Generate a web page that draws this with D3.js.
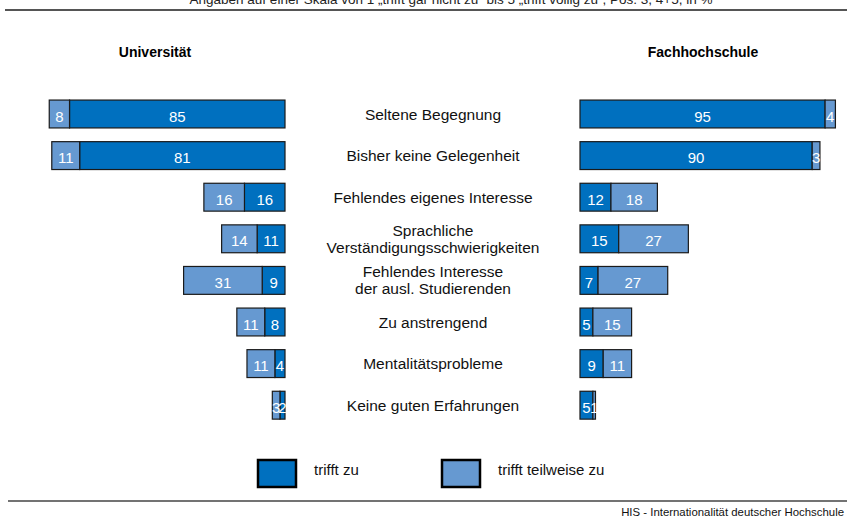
<!DOCTYPE html>
<html>
<head>
<meta charset="utf-8">
<script src="https://cdn.jsdelivr.net/npm/d3@7"></script>
<style>
  html, body { margin: 0; padding: 0; background: #fff; }
  svg { display: block; font-family: Arial, "Liberation Sans", Helvetica, sans-serif; }
</style>
</head>
<body>
<div id="chart"></div>
<script>
// Daten
const categories = [
  ["Seltene Begegnung"],
  ["Bisher keine Gelegenheit"],
  ["Fehlendes eigenes Interesse"],
  ["Sprachliche", "Verständigungsschwierigkeiten"],
  ["Fehlendes Interesse", "der ausl. Studierenden"],
  ["Zu anstrengend"],
  ["Mentalitätsprobleme"],
  ["Keine guten Erfahrungen"]
];
const uniZu = [85, 81, 16, 11, 9, 8, 4, 2];
const uniTeilweise = [8, 11, 16, 14, 31, 11, 11, 3];
const fhZu = [95, 90, 12, 15, 7, 5, 9, 5];
const fhTeilweise = [4, 3, 18, 27, 27, 15, 11, 1];
const legendLabels = ["trifft zu", "trifft teilweise zu"];

const colorZu = "#0070bf";
const colorTeil = "#6699d1";

const width = 847, height = 520;

const svg = d3.select("#chart")
  .append("svg")
  .attr("width", width)
  .attr("height", height);

// Kopfzeile (oben abgeschnitten)
svg.append("text")
  .attr("x", 451)
  .attr("y", 3.5)
  .attr("text-anchor", "middle")
  .attr("font-size", 13.5)
  .attr("fill", "#222")
  .text("Angaben auf einer Skala von 1 „trifft gar nicht zu“ bis 5 „trifft völlig zu“, Pos. 3, 4+5, in %");

svg.append("line")
  .attr("x1", 5).attr("x2", width)
  .attr("y1", 10).attr("y2", 10)
  .attr("stroke", "#555").attr("stroke-width", 2);

// Überschriften
svg.append("text")
  .attr("x", 155).attr("y", 57)
  .attr("text-anchor", "middle")
  .attr("font-size", 14).attr("font-weight", "bold")
  .text("Universität");
svg.append("text")
  .attr("x", 703).attr("y", 57)
  .attr("text-anchor", "middle")
  .attr("font-size", 14).attr("font-weight", "bold")
  .text("Fachhochschule");

// Skalen
const y = d3.scaleBand()
  .domain(d3.range(categories.length))
  .range([93.2, 426])
  .paddingInner(0.33)
  .paddingOuter(0.165);

const xLeft = d3.scaleLinear().domain([0, 100]).range([285, 285 - 253.5]);
const xRight = d3.scaleLinear().domain([0, 100]).range([580, 838]);

// Segmente aufbauen
function segments(zu, teil) {
  return zu.map((z, i) => [
    { row: i, start: 0, end: z, value: z, color: colorZu },
    { row: i, start: z, end: z + teil[i], value: teil[i], color: colorTeil }
  ]).flat();
}

function drawSide(data, x) {
  const g = svg.append("g");
  g.selectAll("rect")
    .data(data)
    .enter()
    .append("rect")
    .attr("x", d => Math.min(x(d.start), x(d.end)))
    .attr("y", d => y(d.row))
    .attr("width", d => Math.abs(x(d.end) - x(d.start)))
    .attr("height", y.bandwidth())
    .attr("fill", d => d.color)
    .attr("stroke", "#1a1a1a")
    .attr("stroke-width", 1.2);

  g.selectAll("text")
    .data(data)
    .enter()
    .append("text")
    .attr("x", d => (x(d.start) + x(d.end)) / 2)
    .attr("y", d => y(d.row) + y.bandwidth() / 2 + 7.5)
    .attr("text-anchor", "middle")
    .attr("font-size", 15)
    .attr("fill", "#fff")
    .text(d => d.value);
}

drawSide(segments(uniZu, uniTeilweise), xLeft);
drawSide(segments(fhZu, fhTeilweise), xRight);

// Kategorien in der Mitte
const labels = svg.append("g");
categories.forEach((lines, i) => {
  const cy = y(i) + y.bandwidth() / 2;
  const t = labels.append("text")
    .attr("x", 433)
    .attr("text-anchor", "middle")
    .attr("font-size", 15.5)
    .attr("fill", "#111");
  lines.forEach((line, k) => {
    const off = (k - (lines.length - 1) / 2) * 17;
    t.append("tspan")
      .attr("x", 433)
      .attr("y", cy + off + 5.5)
      .text(line);
  });
});

// Legende
const legend = svg.append("g");
[[258, colorZu], [442, colorTeil]].forEach(([lx, c], i) => {
  legend.append("rect")
    .attr("x", lx).attr("y", 460)
    .attr("width", 38).attr("height", 27)
    .attr("fill", c)
    .attr("stroke", "#000").attr("stroke-width", 2.5);
  legend.append("text")
    .attr("x", lx + 56).attr("y", 475)
    .attr("font-size", 15)
    .attr("fill", "#111")
    .text(legendLabels[i]);
});

// Fußzeile
svg.append("line")
  .attr("x1", 8).attr("x2", width)
  .attr("y1", 501).attr("y2", 501)
  .attr("stroke", "#444").attr("stroke-width", 1.5);

svg.append("text")
  .attr("x", 844).attr("y", 516)
  .attr("text-anchor", "end")
  .attr("font-size", 11.4)
  .attr("fill", "#111")
  .text("HIS - Internationalität deutscher Hochschule");
</script>
</body>
</html>
